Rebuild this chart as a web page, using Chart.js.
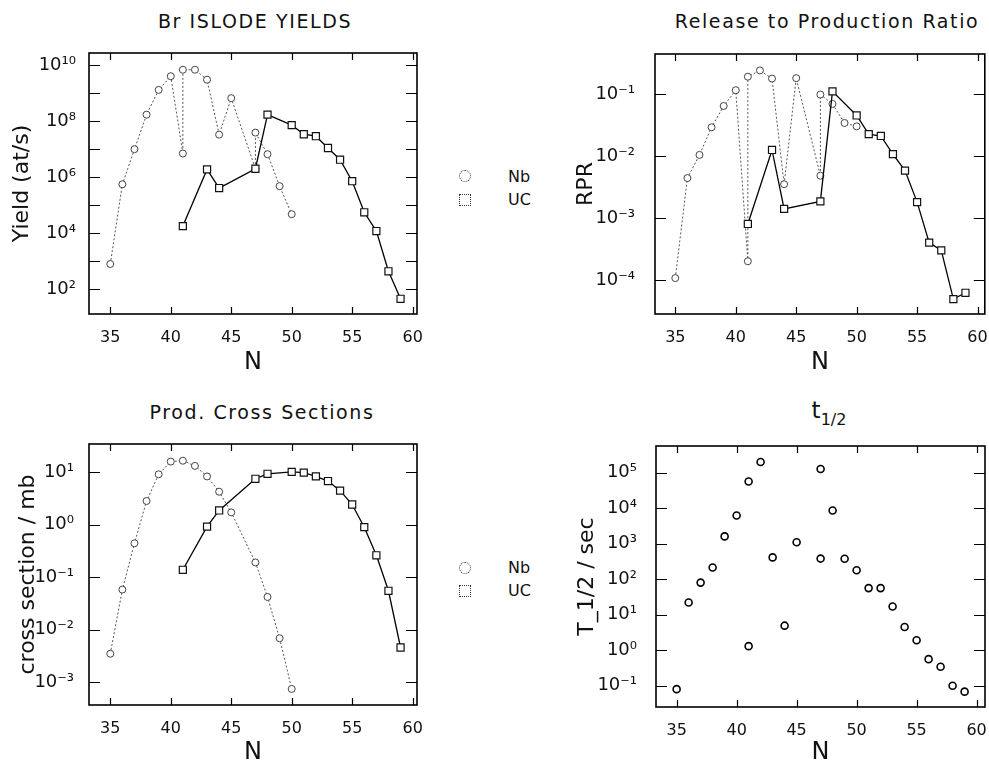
<!DOCTYPE html>
<html>
<head>
<meta charset="utf-8">
<script src="https://cdn.jsdelivr.net/npm/chart.js@4"></script>
<style>
  body { margin: 0; background: #fff; width: 989px; height: 768px; position: relative; overflow: hidden;
         font-family: "DejaVu Sans", sans-serif; color: #111; }
  canvas { position: absolute; }
  .title { position: absolute; font-size: 19px; letter-spacing: 1.6px; white-space: nowrap;
           transform: translate(-50%, -50%); line-height: 24px; }
  .mk { position: absolute; width: 12px; height: 12px; box-sizing: border-box; border: 1px dotted #333; background: #fff; }
  .circ { border-radius: 50%; }
  .lg { position: absolute; font-size: 16px; line-height: 20px; }
</style>
</head>
<body>

<div class="title" style="left:255px; top:21px">Br ISLODE YIELDS</div>
<div class="title" style="left:827px; top:21px">Release to Production Ratio</div>
<div class="title" style="left:262px; top:412px">Prod. Cross Sections</div>
<div style="position:absolute; left:829px; top:399px; transform:translateX(-50%); font-size:23px; line-height:23px; white-space:nowrap">t<span style="font-size:16px; position:relative; top:7px">1/2</span></div>

<div class="mk circ" style="left:459px; top:170px"></div>
<div class="mk" style="left:459px; top:194px"></div>
<div class="lg" style="left:508px; top:167px">Nb</div>
<div class="lg" style="left:508px; top:190px">UC</div>

<div class="mk circ" style="left:459px; top:562px"></div>
<div class="mk" style="left:459px; top:585px"></div>
<div class="lg" style="left:508px; top:558px">Nb</div>
<div class="lg" style="left:508px; top:581px">UC</div>

<canvas id="c1" width="440" height="345" style="left:0px; top:40px"></canvas>
<canvas id="c2" width="451" height="345" style="left:540px; top:40px"></canvas>
<canvas id="c3" width="440" height="338" style="left:0px; top:430px"></canvas>
<canvas id="c4" width="451" height="338" style="left:540px; top:430px"></canvas>

<script>
// ================= DATA =================
const nTicks = [35, 40, 45, 50, 55, 60];

// Br ISLODE yields (at/s)
const yieldNbN = [35, 36, 37, 38, 39, 40, 41, 41, 42, 43, 44, 45, 47, 47, 48, 49, 50];
const yieldNb  = [8e2, 5.6e5, 1e7, 1.7e8, 1.3e9, 4e9, 7e6, 6.8e9, 6.8e9, 3e9, 3.3e7, 6.6e8, 2e6, 3.9e7, 6.6e6, 4.8e5, 4.8e4];
const yieldUcN = [41, 43, 44, 47, 48, 50, 51, 52, 53, 54, 55, 56, 57, 58, 59];
const yieldUc  = [1.8e4, 1.9e6, 4.1e5, 2e6, 1.7e8, 7.2e7, 3.4e7, 2.9e7, 1.1e7, 4.2e6, 7.2e5, 5.6e4, 1.2e4, 4.4e2, 46];
const yieldDecades = [2, 3, 4, 5, 6, 7, 8, 9, 10];
const yieldLabels  = [2, 4, 6, 8, 10];

// release to production ratio
const rprNbN = [35, 36, 37, 38, 39, 40, 41, 41, 42, 43, 44, 45, 47, 47, 48, 49, 50];
const rprNb  = [1.07e-4, 4.4e-3, 1.04e-2, 2.9e-2, 6.4e-2, 1.15e-1, 2e-4, 1.9e-1, 2.4e-1, 1.77e-1, 3.5e-3, 1.8e-1, 4.8e-3, 9.8e-2, 6.9e-2, 3.4e-2, 3.0e-2];
const rprUcN = [41, 43, 44, 47, 48, 50, 51, 52, 53, 54, 55, 56, 57, 58, 59];
const rprUc  = [8e-4, 1.25e-2, 1.4e-3, 1.85e-3, 1.1e-1, 4.5e-2, 2.25e-2, 2.1e-2, 1.07e-2, 5.8e-3, 1.8e-3, 4e-4, 3e-4, 4.9e-5, 6.2e-5];
const rprDecades = [-4, -3, -2, -1];

// production cross sections (mb)
const xsNbN = [35, 36, 37, 38, 39, 40, 41, 42, 43, 44, 45, 47, 48, 49, 50];
const xsNb  = [3.5e-3, 5.8e-2, 0.44, 2.8, 9, 15.7, 16.3, 13, 8.2, 4.2, 1.7, 0.19, 4.2e-2, 6.9e-3, 7.5e-4];
const xsUcN = [41, 43, 44, 47, 48, 50, 51, 52, 53, 54, 55, 56, 57, 58, 59];
const xsUc  = [0.138, 0.91, 1.85, 7.4, 9.2, 10, 9.7, 8.2, 6.7, 4.4, 2.4, 0.89, 0.26, 5.5e-2, 4.6e-3];
const xsDecades = [-3, -2, -1, 0, 1];

// half lives (s)
const halfN    = [35, 36, 37, 38, 39, 40, 41, 41, 42, 43, 44, 45, 47, 47, 48, 49, 50, 51, 52, 53, 54, 55, 56, 57, 58, 59];
const halfLife = [0.08, 22, 80, 214, 1.6e3, 6.2e3, 5.6e4, 1.3, 2e5, 410, 4.9, 1.1e3, 1.26e5, 380, 8.6e3, 374, 178, 56, 56, 17, 4.5, 1.9, 0.56, 0.34, 0.1, 0.068];
const halfDecades = [-1, 0, 1, 2, 3, 4, 5];

// ================= HELPERS =================
const FONT = '"DejaVu Sans", sans-serif';
const SUP = { '0': '⁰', '1': '¹', '2': '²', '3': '³', '4': '⁴', '5': '⁵', '6': '⁶', '7': '⁷', '8': '⁸', '9': '⁹', '-': '⁻' };

function supLabel(e) {
  return '10' + String(e).split('').map(c => SUP[c]).join('');
}

function pts(xs, ys) {
  return xs.map((x, i) => ({ x: x, y: ys[i] }));
}

function nbSet(xs, ys) {
  return {
    data: pts(xs, ys), borderColor: '#555', borderWidth: 1, borderDash: [2, 2],
    pointStyle: 'circle', pointRadius: 3.5, pointBorderColor: '#444', pointBorderWidth: 1,
    pointBackgroundColor: '#fff', tension: 0
  };
}

function ucSet(xs, ys) {
  return {
    data: pts(xs, ys), borderColor: '#000', borderWidth: 1.3,
    pointStyle: 'rect', pointRadius: 5, pointBorderColor: '#111', pointBorderWidth: 1.2,
    pointBackgroundColor: '#fff', tension: 0
  };
}

// frame round the plot + inward ticks on all four sides
function drawFrame(chart, decades) {
  const ctx = chart.ctx;
  const a = chart.chartArea;
  const sx = chart.scales.x;
  const sy = chart.scales.y;
  ctx.save();
  ctx.setLineDash([]);
  ctx.strokeStyle = '#000';
  ctx.lineWidth = 1.6;
  ctx.strokeRect(a.left, a.top, a.right - a.left, a.bottom - a.top);
  ctx.lineWidth = 1.2;
  ctx.beginPath();
  nTicks.forEach(v => {
    const px = Math.round(sx.getPixelForValue(v)) + 0.5;
    ctx.moveTo(px, a.bottom); ctx.lineTo(px, a.bottom - 7);
    ctx.moveTo(px, a.top); ctx.lineTo(px, a.top + 7);
  });
  decades.forEach(e => {
    const py = Math.round(sy.getPixelForValue(Math.pow(10, e))) + 0.5;
    ctx.moveTo(a.left, py); ctx.lineTo(a.left + 11, py);
    ctx.moveTo(a.right, py); ctx.lineTo(a.right - 11, py);
  });
  ctx.stroke();
  ctx.restore();
}

// ================= PANELS =================
function makePanel(id, p) {
  return new Chart(document.getElementById(id), {
    type: 'line',
    data: { datasets: p.datasets },
    plugins: [{ id: 'frame_' + id, afterDraw: c => drawFrame(c, p.decades) }],
    options: {
      responsive: false,
      animation: false,
      devicePixelRatio: 1,
      layout: { padding: { left: 0, top: p.padTop, right: p.padRight, bottom: 0 } },
      plugins: {
        legend: { display: false },
        tooltip: { enabled: false }
      },
      scales: {
        x: {
          type: 'linear', min: p.xMin, max: p.xMax,
          grid: { display: false }, border: { display: false },
          afterBuildTicks: s => { s.ticks = nTicks.map(v => ({ value: v })); },
          afterFit: s => { s.height = p.xAxisH; s.paddingLeft = 0; s.paddingRight = 0; },
          ticks: { autoSkip: false, maxRotation: 0, padding: 6, color: '#111', font: { family: FONT, size: 16 } },
          title: { display: true, text: 'N', color: '#111', font: { family: FONT, size: 24 },
                   padding: { top: 0, bottom: p.nPad } }
        },
        y: {
          type: 'logarithmic', min: p.yMin, max: p.yMax,
          grid: { display: false }, border: { display: false },
          afterBuildTicks: s => { s.ticks = p.decades.map(e => ({ value: Math.pow(10, e) })); },
          afterFit: s => { s.width = p.yAxisW; s.paddingTop = 0; s.paddingBottom = 0; },
          ticks: {
            autoSkip: false, padding: p.yTickPad, color: '#111', font: { family: FONT, size: 18 },
            callback: v => {
              const e = Math.round(Math.log10(v));
              return p.labels.includes(e) ? supLabel(e) : '';
            }
          },
          title: { display: true, text: p.yTitle, color: '#111', font: { family: FONT, size: 22 },
                   padding: { top: p.yTitlePad, bottom: 0 } }
        }
      }
    }
  });
}

makePanel('c1', {
  datasets: [ucSet(yieldUcN, yieldUc), nbSet(yieldNbN, yieldNb)],
  xMin: 33.24, xMax: 60.36, yMin: Math.pow(10, 1.12), yMax: Math.pow(10, 10.43),
  decades: yieldDecades, labels: yieldLabels,
  padTop: 13, padRight: 23, xAxisH: 71, yAxisW: 89, nPad: 7.6, yTickPad: 5,
  yTitle: 'Yield (at/s)', yTitlePad: 8.8
});

makePanel('c2', {
  datasets: [ucSet(rprUcN, rprUc), nbSet(rprNbN, rprNb)],
  xMin: 33.32, xMax: 60.6, yMin: Math.pow(10, -4.55), yMax: Math.pow(10, -0.355),
  decades: rprDecades, labels: rprDecades,
  padTop: 14, padRight: 6, xAxisH: 71, yAxisW: 115, nPad: 8.1, yTickPad: 12,
  yTitle: 'RPR', yTitlePad: 33.5
});

makePanel('c3', {
  datasets: [ucSet(xsUcN, xsUc), nbSet(xsNbN, xsNb)],
  xMin: 33.24, xMax: 60.36, yMin: Math.pow(10, -3.43), yMax: Math.pow(10, 1.53),
  decades: xsDecades, labels: xsDecades,
  padTop: 14, padRight: 23, xAxisH: 63, yAxisW: 89, nPad: 0.9, yTickPad: 7,
  yTitle: 'cross section / mb', yTitlePad: 14.8
});

makePanel('c4', {
  datasets: [{
    data: pts(halfN, halfLife), showLine: false,
    pointStyle: 'circle', pointRadius: 3.5, pointBorderColor: '#000', pointBorderWidth: 1.6,
    pointBackgroundColor: '#fff'
  }],
  xMin: 33.28, xMax: 60.7, yMin: Math.pow(10, -1.6), yMax: Math.pow(10, 5.75),
  decades: halfDecades, labels: halfDecades,
  padTop: 16, padRight: 6, xAxisH: 61, yAxisW: 116, nPad: 0.6, yTickPad: 11,
  yTitle: 'T_1/2 / sec', yTitlePad: 34.3
});
</script>
</body>
</html>
